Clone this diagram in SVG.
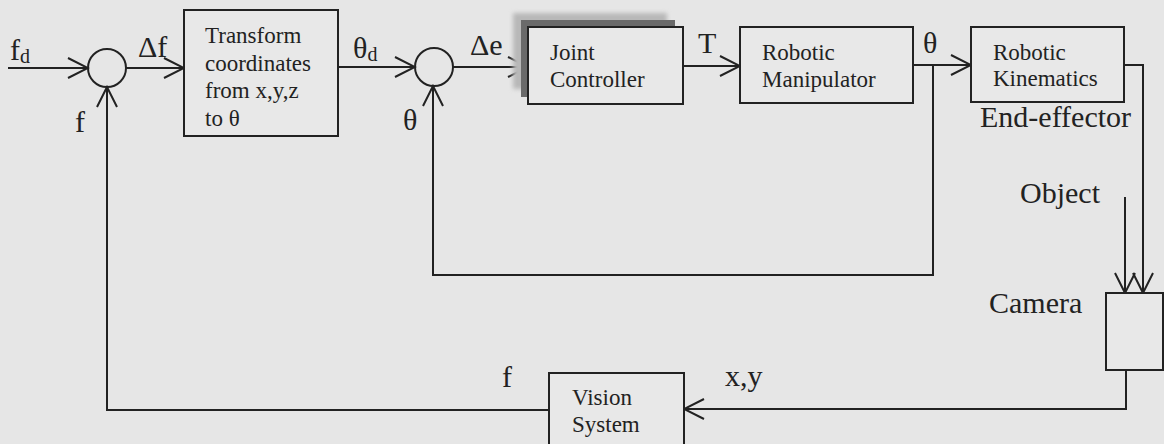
<svg xmlns="http://www.w3.org/2000/svg" width="1164" height="444" viewBox="0 0 1164 444">
<style>
.bg{fill:#e6e6e6}
.box{fill:#e8e8e8;stroke:#222;stroke-width:2}
.ln{fill:none;stroke:#222;stroke-width:2}
.bt{font-family:"Liberation Serif","Times New Roman",serif;font-size:23px;fill:#222}
.lb{font-family:"Liberation Serif","Times New Roman",serif;font-size:30px;fill:#222}
.sub{font-size:20px}
</style>
<defs>
<marker id="arr" markerUnits="userSpaceOnUse" markerWidth="24" markerHeight="24" viewBox="-2 -2 24 24" refX="20" refY="10" orient="auto">
<path d="M0,0 L20,10 L0,20" fill="none" stroke="#222" stroke-width="2"/>
</marker>
<filter id="blur" x="-10%" y="-10%" width="120%" height="120%"><feGaussianBlur stdDeviation="2"/></filter>
</defs>
<rect class="bg" x="0" y="0" width="1164" height="444"/>

<g id="connectors">
<line class="ln" x1="8" y1="68" x2="88" y2="68" marker-end="url(#arr)"/>
<line class="ln" x1="126" y1="68" x2="184" y2="68" marker-end="url(#arr)"/>
<line class="ln" x1="338" y1="67" x2="415" y2="67" marker-end="url(#arr)"/>
<line class="ln" x1="453" y1="67" x2="528" y2="67" marker-end="url(#arr)"/>
<line class="ln" x1="683" y1="66" x2="740" y2="66" marker-end="url(#arr)"/>
<line class="ln" x1="913" y1="65" x2="971" y2="65" marker-end="url(#arr)"/>
<polyline class="ln" points="933,65 933,275 433,275 433,86" marker-end="url(#arr)"/>
<polyline class="ln" points="1124,65 1143,65 1143,293" marker-end="url(#arr)"/>
<line class="ln" x1="1125" y1="197" x2="1125" y2="293" marker-end="url(#arr)"/>
<polyline class="ln" points="1126,370 1126,409 684,409" marker-end="url(#arr)"/>
<polyline class="ln" points="549,410 107,410 107,87" marker-end="url(#arr)"/>
</g>

<g id="sum1"><circle class="ln" cx="107" cy="68" r="19"/></g>
<g id="sum2"><circle class="ln" cx="434" cy="67" r="19"/></g>

<g id="transform">
<rect class="box" x="184" y="10" width="154" height="126"/>
<text class="bt" x="205" y="43">Transform</text>
<text class="bt" x="205" y="70.5">coordinates</text>
<text class="bt" x="205" y="98">from x,y,z</text>
<text class="bt" x="205" y="125.5">to θ</text>
</g>

<g id="joint-controller">
<rect x="513" y="13" width="154" height="76" fill="#b8b8b8" filter="url(#blur)"/>
<rect x="521" y="20" width="154" height="77" fill="#6a6a6a"/>
<rect class="box" x="528" y="27" width="155" height="77"/>
<text class="bt" x="550" y="60">Joint</text>
<text class="bt" x="550" y="87">Controller</text>
</g>

<g id="manipulator">
<rect class="box" x="740" y="27" width="173" height="76"/>
<text class="bt" x="762" y="60">Robotic</text>
<text class="bt" x="762" y="87">Manipulator</text>
</g>

<g id="kinematics">
<rect class="box" x="971" y="27" width="153" height="75"/>
<text class="bt" x="993" y="60">Robotic</text>
<text class="bt" x="993" y="86">Kinematics</text>
</g>

<g id="camera">
<rect class="box" x="1106" y="293" width="57" height="77"/>
</g>

<g id="vision">
<rect class="box" x="549" y="373" width="135" height="80"/>
<text class="bt" x="572" y="405">Vision</text>
<text class="bt" x="572" y="432">System</text>
</g>

<g id="labels">
<text class="lb" x="10" y="60">f<tspan class="sub" dy="3">d</tspan></text>
<text class="lb" x="138" y="57">Δf</text>
<text class="lb" x="75" y="132">f</text>
<text class="lb" x="353" y="58">θ<tspan class="sub" dy="3">d</tspan></text>
<text class="lb" x="470" y="55">Δe</text>
<text class="lb" x="403" y="130">θ</text>
<text class="lb" x="698" y="53">T</text>
<text class="lb" x="923" y="53">θ</text>
<text class="lb" x="980" y="127">End-effector</text>
<text class="lb" x="1020" y="203">Object</text>
<text class="lb" x="989" y="313">Camera</text>
<text class="lb" x="502" y="387">f</text>
<text class="lb" x="725" y="386">x,y</text>
</g>
</svg>
